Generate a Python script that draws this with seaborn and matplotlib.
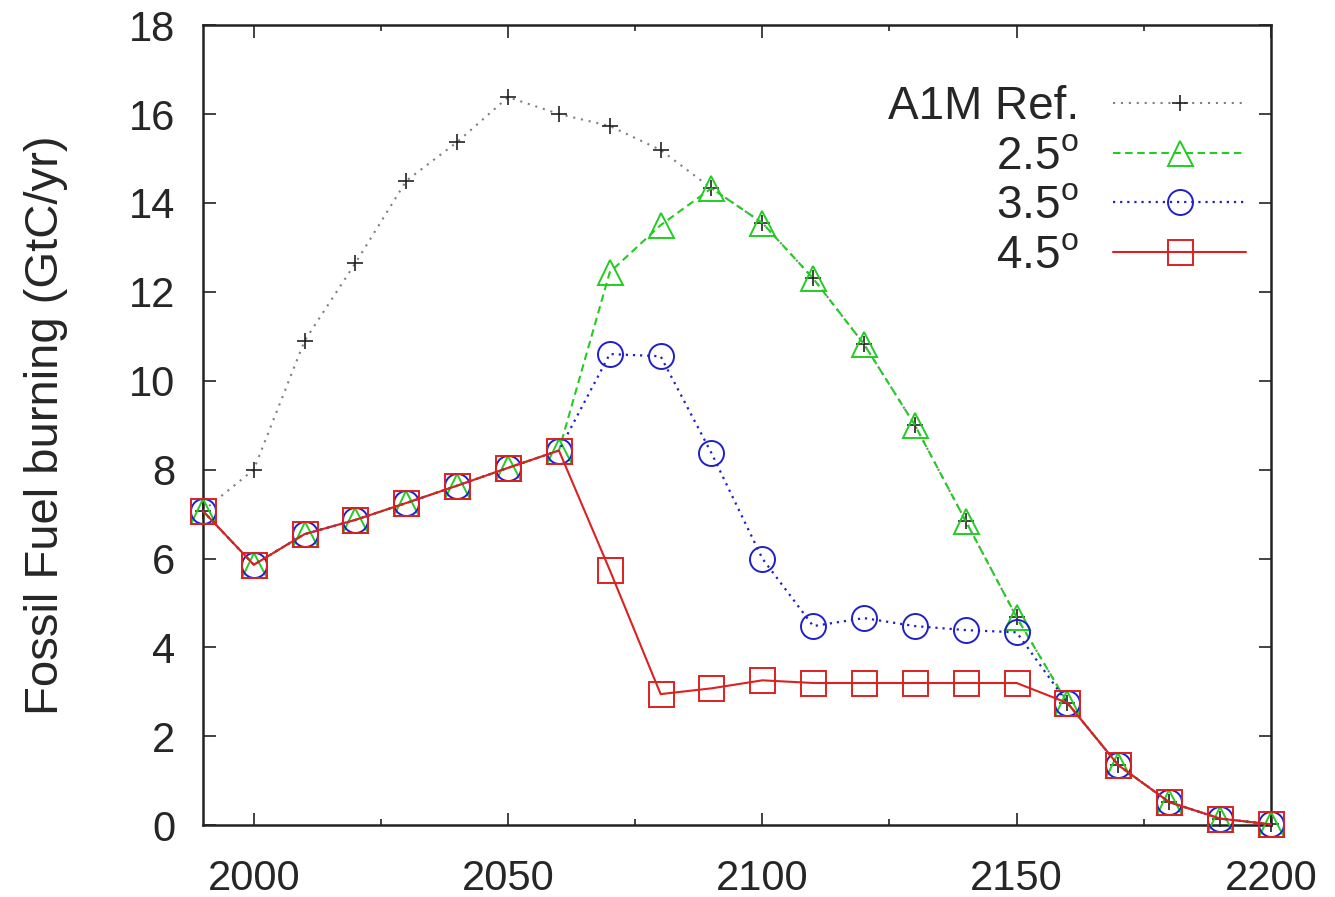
import numpy as np
import pandas as pd
import matplotlib
matplotlib.use("Agg")
import matplotlib.pyplot as plt
import seaborn as sns

years = [1990, 2000, 2010, 2020, 2030, 2040, 2050, 2060, 2070, 2080, 2090,
         2100, 2110, 2120, 2130, 2140, 2150, 2160, 2170, 2180, 2190, 2200]

ref_a1m = [7.07, 8.0, 10.9, 12.65, 14.5, 15.37, 16.38, 16.0, 15.73, 15.19, 14.33,
           13.55, 12.3, 10.82, 9.0, 6.84, 4.68, 2.75, 1.35, 0.52, 0.15, 0.02]
deg_25 = [7.07, 5.86, 6.55, 6.87, 7.25, 7.64, 8.04, 8.43, 12.44, 13.5, 14.33,
          13.55, 12.3, 10.82, 9.0, 6.84, 4.68, 2.75, 1.35, 0.52, 0.15, 0.02]
deg_35 = [7.07, 5.86, 6.55, 6.87, 7.25, 7.64, 8.04, 8.43, 10.6, 10.55, 8.37,
          6.0, 4.48, 4.66, 4.48, 4.39, 4.34, 2.75, 1.35, 0.52, 0.15, 0.02]
deg_45 = [7.07, 5.86, 6.55, 6.87, 7.25, 7.64, 8.04, 8.43, 5.74, 2.95, 3.08,
          3.26, 3.2, 3.2, 3.2, 3.2, 3.2, 2.75, 1.35, 0.52, 0.15, 0.02]

labels = ["A1M Ref.", r"2.5$^{\rm o}$", r"3.5$^{\rm o}$", r"4.5$^{\rm o}$"]
x_ticks = [2000, 2050, 2100, 2150, 2200]
y_ticks = [0, 2, 4, 6, 8, 10, 12, 14, 16, 18]
y_label = "Fossil Fuel burning (GtC/yr)"

sns.set_style("ticks")
plt.rcParams["font.family"] = ["Liberation Sans", "DejaVu Sans"]
plt.rcParams["mathtext.fontset"] = "custom"
plt.rcParams["mathtext.rm"] = "Liberation Sans"
plt.rcParams["mathtext.it"] = "Liberation Sans:italic"

fig = plt.figure(figsize=(13.35, 8.97), dpi=100)
ax = fig.add_axes([0.152, 0.080, 0.800, 0.892])

styles = [
    dict(color="#7f7f7f", marker="+", ls=(0, (1, 2.8)), lw=1.5, ms=11, mec="#222222", mew=1.2),
    dict(color="#22cc22", marker="^", ls=(0, (3.6, 2.2)), lw=1.5, ms=18, mec="#22cc22", mew=1.4),
    dict(color="#2020c8", marker="o", ls=(0, (1, 2.2)), lw=1.6, ms=18, mec="#2020c8", mew=1.4),
    dict(color="#dd2020", marker="s", ls="-", lw=1.5, ms=18, mec="#dd2020", mew=1.4),
]
series = [ref_a1m, deg_25, deg_35, deg_45]

for vals, lab, st in zip(series, labels, styles):
    df = pd.DataFrame({"year": years, "val": vals})
    sns.lineplot(data=df, x="year", y="val", ax=ax, label=lab,
                 color=st["color"], linestyle=st["ls"], linewidth=st["lw"],
                 marker=st["marker"], markersize=st["ms"],
                 markerfacecolor="none", markeredgecolor=st["mec"],
                 markeredgewidth=st["mew"], clip_on=False, zorder=3)

for line, st in zip(ax.lines, styles):
    line.set_markerfacecolor("none")
    line.set_markeredgecolor(st["mec"])
    line.set_linestyle(st["ls"])

ax.set_xlim(1990, 2200)
ax.set_ylim(0, 18)
ax.set_xticks(x_ticks)
ax.set_xticks([2025, 2075, 2125, 2175], minor=True)
ax.set_yticks(y_ticks)
ax.set_xlabel("")
ax.set_ylabel(y_label, fontsize=34, labelpad=44)

for sp in ax.spines.values():
    sp.set_visible(True)
    sp.set_linewidth(1.8)
    sp.set_color("#222222")

ax.tick_params(axis="both", which="major", direction="in", length=9, width=1.2,
               color="#222222", labelsize=30, top=True, right=True)
ax.tick_params(axis="x", which="major", pad=24)
ax.tick_params(axis="y", which="major", pad=20)
ax.tick_params(axis="x", which="minor", direction="in", length=4, width=1.2,
               color="#222222", top=True, bottom=True)

handles = ax.lines[:4]
leg = ax.legend(handles, labels, loc="upper right", bbox_to_anchor=(0.977, 0.925),
                frameon=False, markerfirst=False, fontsize=33, handlelength=2.9,
                handletextpad=0.75, labelspacing=0.12, borderpad=0, borderaxespad=0)

fig.savefig("out.png", dpi=100)
